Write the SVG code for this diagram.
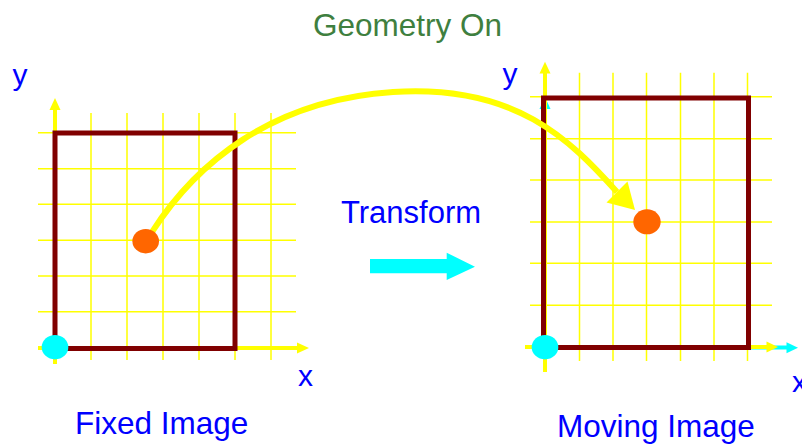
<svg xmlns="http://www.w3.org/2000/svg" width="802" height="444" viewBox="0 0 802 444">
<style>
.grid{stroke:#ffff00;stroke-width:1.5;fill:none}
.axis{stroke:#ffff00;stroke-width:4;fill:none}
.axhead{fill:#ffff00}
.cyanaxis{stroke:#00ffff;stroke-width:4;fill:none}
.frame{fill:none;stroke:#800000;stroke-width:5}
.origin{fill:#00ffff}
.pt{fill:#ff6600}
.lbl{font-family:"Liberation Sans",Arial,sans-serif;font-size:30px;fill:#0000ff}
.cap{font-family:"Liberation Sans",Arial,sans-serif;font-size:31.5px;fill:#0000ff}
</style>
<rect width="802" height="444" fill="#ffffff"/>

<g id="title">
<text x="313" y="36" font-family="Liberation Sans, Arial, sans-serif" font-size="31.5" fill="#3f7f3f">Geometry On</text>
</g>

<g id="fixed-image">
<g class="grid">
<path d="M38 168.7H296M38 204.3H296M38 240.3H296M38 276H296M38 311.7H296M38 132.7H296"/>
<path d="M91 113V360M127 113V360M163 113V360M199 113V360M235 113V360M271 113V360"/>
</g>
<path class="axis" d="M55 364V108M38 348H299"/>
<polygon class="axhead" points="55,98 49.5,110 60.5,110"/>
<polygon class="axhead" points="309,348 297,342.5 297,353.5"/>
<rect class="frame" x="55" y="133" width="180" height="215.5"/>
<ellipse class="origin" cx="55" cy="347.2" rx="13.3" ry="12.2"/>
<text class="lbl" x="12.5" y="85">y</text>
<text class="lbl" x="298" y="386">x</text>
<text class="cap" x="75" y="434">Fixed Image</text>
</g>

<g id="moving-image">
<g class="grid">
<path d="M530 96.7H772M530 138.7H772M530 180H772M530 222H772M530 263.3H772M530 305.3H772"/>
<path d="M579.5 72.7V361M613 72.7V361M646.5 72.7V361M680.5 72.7V361M714 72.7V361M747.5 72.7V361"/>
</g>
<path class="cyanaxis" d="M545 360V108M545 347.5H788"/>
<polygon class="origin" points="545,97 539.5,109 550.5,109"/>
<polygon class="origin" points="798,347.7 786.5,342.2 786.5,353.2"/>
<path class="axis" d="M545 372V72M525 347H768"/>
<polygon class="axhead" points="545,61.7 539.5,73.5 550.5,73.5"/>
<polygon class="axhead" points="778,347 766.5,341.5 766.5,352.5"/>
<rect class="frame" x="543.5" y="98" width="205" height="249.5"/>
<ellipse class="origin" cx="545" cy="347.2" rx="13.3" ry="12.2"/>
<text class="lbl" x="502.5" y="84">y</text>
<text class="lbl" x="792" y="392">x</text>
<text class="cap" x="557" y="437" font-size="32">Moving Image</text>
</g>

<g id="transform">
<text x="341" y="223" font-family="Liberation Sans, Arial, sans-serif" font-size="31" fill="#0000ff">Transform</text>
<polygon fill="#00ffff" points="370,259 446.7,259 446.7,252.7 475,266.7 446.7,280 446.7,273.3 370,273.3"/>
</g>

<g id="connectors">
<path d="M152 232C195 165 270 100 393 92S570 140 617 192" fill="none" stroke="#ffff00" stroke-width="6"/>
<polygon fill="#ffff00" points="635,210 606.5,202.5 627.5,181.5"/>
</g>

<g id="points">
<ellipse class="pt" cx="145.7" cy="241.2" rx="13.3" ry="12.2"/>
<ellipse class="pt" cx="647" cy="221.8" rx="13.7" ry="12.5"/>
</g>
</svg>
